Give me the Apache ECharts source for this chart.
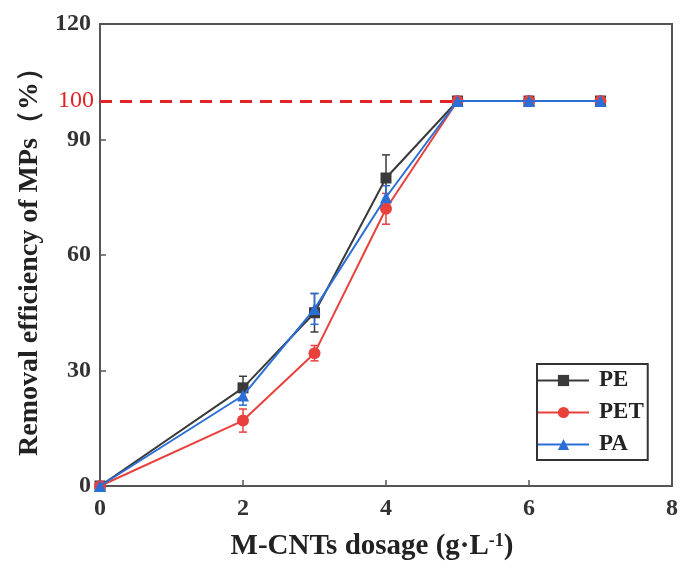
<!DOCTYPE html>
<html>
<head>
<meta charset="utf-8">
<script src="https://cdn.jsdelivr.net/npm/echarts@6/dist/echarts.min.js"></script>
<style>html,body{margin:0;padding:0;background:#fff}#c{width:681px;height:570px}</style>
</head>
<body>
<div id="c"></div>
<script>
const dosage = [0, 2, 3, 4, 5, 6, 7];
const pe = [0, 25.5, 45, 80, 100, 100, 100];
const pet = [0, 17, 34.5, 72, 100, 100, 100];
const pa = [0, 23.5, 46, 75, 100, 100, 100];
const peErr = [0, 3, 5, 6, 0.5, 0.5, 0.5];
const petErr = [0, 3, 2, 4, 0.5, 0.5, 0.5];
const paErr = [0, 2.5, 4, 3, 0.5, 0.5, 0.5];
const yTicks = [0, 30, 60, 90, 120];
const xTicks = [0, 2, 4, 6, 8];

const FONT = '"Liberation Serif", "DejaVu Serif", serif';
const AX = '#555';

function pairs(ys) { return dosage.map((x, i) => [x, ys[i]]); }
function errData(ys, es) { return dosage.map((x, i) => [x, ys[i] - es[i], ys[i] + es[i]]); }
function errSeries(ys, es, color) {
  return {
    type: 'custom', silent: true, z: 1,
    data: errData(ys, es),
    renderItem: function (params, api) {
      const x = api.value(0);
      const lo = api.coord([x, api.value(1)]);
      const hi = api.coord([x, api.value(2)]);
      const w = 4;
      const st = { stroke: color, lineWidth: 1.5 };
      return { type: 'group', children: [
        { type: 'line', shape: { x1: lo[0], y1: lo[1], x2: hi[0], y2: hi[1] }, style: st },
        { type: 'line', shape: { x1: lo[0] - w, y1: lo[1], x2: lo[0] + w, y2: lo[1] }, style: st },
        { type: 'line', shape: { x1: hi[0] - w, y1: hi[1], x2: hi[0] + w, y2: hi[1] }, style: st }
      ]};
    }
  };
}

const chart = echarts.init(document.getElementById('c'));
chart.setOption({
  animation: false,
  backgroundColor: '#fff',
  grid: { left: 100, right: 9, top: 24, bottom: 84, show: true, borderColor: AX, borderWidth: 2 },
  legend: {
    orient: 'vertical', left: 537, top: 364,
    data: ['PE', 'PET', 'PA'],
    itemWidth: 51, itemHeight: 14, itemGap: 9,
    padding: [5, 4, 4, 0],
    borderColor: '#333', borderWidth: 2,
    textStyle: { fontFamily: FONT, fontSize: 23, fontWeight: 'bold', color: '#222', padding: [0, 0, 0, 5], lineHeight: 22 }
  },
  xAxis: {
    type: 'value', min: 0, max: 8, interval: 2,
    name: '{n|M-CNTs dosage (g·L}{s|-1}{n|)}',
    nameLocation: 'middle', nameGap: 46,
    nameTextStyle: { padding: [0, 28, 0, 0], rich: {
      n: { fontFamily: FONT, fontSize: 29, fontWeight: 'bold', color: '#222' },
      s: { fontFamily: FONT, fontSize: 18, fontWeight: 'bold', color: '#222', verticalAlign: 'top', padding: [0, 0, 12, 0] }
    } },
    axisLine: { lineStyle: { color: AX, width: 2 } },
    axisTick: { inside: true, length: 6, lineStyle: { color: AX, width: 1.5 } },
    axisLabel: { fontFamily: FONT, fontSize: 24, fontWeight: 'bold', color: '#333', margin: 11, formatter: v => xTicks.includes(v) ? String(v) : '' },
    splitLine: { show: false }
  },
  yAxis: {
    type: 'value', min: 0, max: 120, interval: 30,
    name: 'Removal efficiency of MPs（%）',
    nameLocation: 'middle', nameGap: 56,
    nameTextStyle: { fontFamily: FONT, fontSize: 28, fontWeight: 'bold', color: '#222' },
    axisLine: { lineStyle: { color: AX, width: 2 } },
    axisTick: { inside: true, length: 6, lineStyle: { color: AX, width: 1.5 } },
    axisLabel: { fontFamily: FONT, fontSize: 24, fontWeight: 'bold', color: '#333', margin: 9, formatter: v => yTicks.includes(v) ? String(v) : '' },
    splitLine: { show: false }
  },
  series: [
    errSeries(pe, peErr, '#3a3a3a'),
    errSeries(pet, petErr, '#e8413c'),
    errSeries(pa, paErr, '#2b6fd6'),
    {
      name: 'PE', type: 'line', data: pairs(pe), z: 3,
      symbol: 'rect', symbolSize: 11,
      itemStyle: { color: '#3a3a3a' }, lineStyle: { color: '#3a3a3a', width: 2 }
    },
    {
      name: 'PET', type: 'line', data: pairs(pet), z: 3,
      symbol: 'circle', symbolSize: 12,
      itemStyle: { color: '#e8413c' }, lineStyle: { color: '#e8413c', width: 2 },
      markLine: {
        silent: true, symbol: 'none',
        lineStyle: { color: '#e02424', width: 3, type: [12, 8] },
        label: { show: true, position: 'start', distance: 6, formatter: '100', fontFamily: FONT, fontSize: 24, color: '#e02424' },
        data: [[{ coord: [0, 100] }, { coord: [5, 100] }]]
      }
    },
    {
      name: 'PA', type: 'line', data: pairs(pa), z: 4,
      symbol: 'triangle', symbolSize: 12,
      itemStyle: { color: '#2b6fd6' }, lineStyle: { color: '#2b6fd6', width: 2 }
    }
  ]
});
</script>
</body>
</html>
